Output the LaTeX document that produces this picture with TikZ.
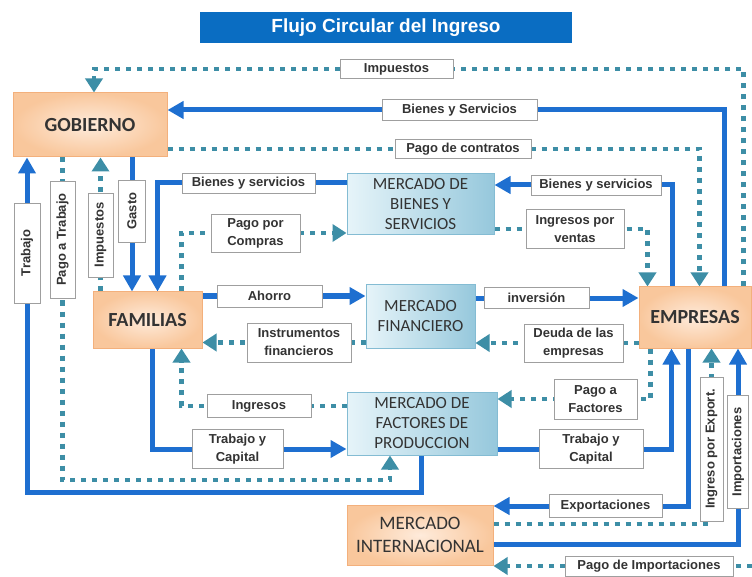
\documentclass[tikz,border=0pt]{standalone}
\usepackage{fontspec}
\setmainfont{Carlito}
\newfontfamily\lblfont{Liberation Sans}
\usepackage{xcolor}
\definecolor{flowblue}{HTML}{1E6FD0}
\definecolor{flowteal}{HTML}{3D8EA6}
\definecolor{titleblue}{HTML}{0A6DC2}
\definecolor{orglight}{HTML}{FEEBDB}
\definecolor{orgdark}{HTML}{F9C79C}
\definecolor{orgedge}{HTML}{F3B07C}
\definecolor{mktlight}{HTML}{E6F4F9}
\definecolor{mktdark}{HTML}{96C8DC}
\definecolor{mktedge}{HTML}{84BCD3}
\definecolor{txtgray}{HTML}{333333}
\usetikzlibrary{arrows.meta, backgrounds}

\begin{document}
\begin{tikzpicture}[x=1pt, y=-1pt,
    sector/.style={rectangle, draw=orgedge, line width=1pt, inner color=orglight,
                   outer color=orgdark, align=center, text=txtgray},
    market/.style={rectangle, draw=mktedge, line width=1pt, left color=mktlight,
                   right color=mktdark, align=center, text=txtgray,
                   font=\fontsize{17}{20}\selectfont},
    lbl/.style={rectangle, draw=gray!75, fill=white, line width=0.8pt, align=center,
                inner sep=2pt, text=txtgray,
                font=\lblfont\bfseries\fontsize{13}{18}\selectfont},
    flow/.style={draw=flowblue, line width=5pt, -{Triangle[length=16pt,width=17pt]}},
    money/.style={draw=flowteal, line width=4.5pt, dash pattern=on 5pt off 6pt,
                  -{Triangle[length=14pt,width=17pt]}}]
  \useasboundingbox (0,0) rectangle (752,577);
  \node[fill=titleblue, minimum width=372, minimum height=31, text=white,
        font=\lblfont\bfseries\fontsize{19}{21}\selectfont] (title) at (386,27.5)
        {Flujo Circular del Ingreso};

  \node[sector, minimum width=154, minimum height=64, font=\bfseries\fontsize{20}{23}\selectfont] (gob) at (90,125) {GOBIERNO};
  \node[sector, minimum width=109, minimum height=56, font=\bfseries\fontsize{20}{23}\selectfont] (fam) at (147.5,320) {FAMILIAS};
  \node[sector, minimum width=112, minimum height=61, font=\bfseries\fontsize{20}{23}\selectfont] (emp) at (695,317.5) {EMPRESAS};
  \node[sector, minimum width=146, minimum height=60, font=\fontsize{19}{23}\selectfont] (mint) at (420,535) {MERCADO\\INTERNACIONAL};
  \node[market, minimum width=147, minimum height=61] (mbs) at (420.5,204.5) {MERCADO DE\\BIENES Y\\SERVICIOS};
  \node[market, minimum width=109, minimum height=63] (mfin) at (420.5,316.5) {MERCADO\\FINANCIERO};
  \node[market, minimum width=150, minimum height=63] (mfac) at (422,423.5) {MERCADO DE\\FACTORES DE\\PRODUCCION};

  \node[lbl, minimum width=113, minimum height=19] (limp) at (396.5,69) {Impuestos};
  \node[lbl, minimum width=155, minimum height=21] (lbys) at (459.5,110) {Bienes y Servicios};
  \node[lbl, minimum width=136, minimum height=19] (lpdc) at (463,149) {Pago de contratos};
  \node[lbl, minimum width=130, minimum height=20] (lbys2) at (596,185) {Bienes y servicios};
  \node[lbl, minimum width=133, minimum height=20] (lbys1) at (248.5,183) {Bienes y servicios};
  \node[lbl, minimum width=89, minimum height=38] (lppc) at (255.5,233) {Pago por\\Compras};
  \node[lbl, minimum width=98, minimum height=39] (lipv) at (575,229) {Ingresos por\\ventas};
  \node[lbl, minimum width=105, minimum height=22] (lah) at (269.5,296) {Ahorro};
  \node[lbl, minimum width=104, minimum height=39] (linst) at (299,342.5) {Instrumentos\\financieros};
  \node[lbl, minimum width=105, minimum height=21] (linv) at (536.5,298) {inversión};
  \node[lbl, minimum width=99, minimum height=38] (ldeu) at (573.5,343) {Deuda de las\\empresas};
  \node[lbl, minimum width=104, minimum height=23] (ling) at (259,406) {Ingresos};
  \node[lbl, minimum width=91, minimum height=39] (ltyc1) at (237.5,449) {Trabajo y\\Capital};
  \node[lbl, minimum width=83, minimum height=40] (lpaf) at (595.5,399) {Pago a\\Factores};
  \node[lbl, minimum width=104, minimum height=39] (ltyc2) at (591,449) {Trabajo y\\Capital};
  \node[lbl, minimum width=113, minimum height=23] (lexp) at (605.5,506) {Exportaciones};
  \node[lbl, minimum width=168, minimum height=20] (lpdi) at (649,566) {Pago de Importaciones};
  \node[lbl, rotate=90, minimum width=144, minimum height=23] (lipe) at (711.5,449) {Ingreso por Export.};
  \node[lbl, rotate=90, minimum width=113, minimum height=21] (limpo) at (738,452) {Importaciones};
  \node[lbl, rotate=90, minimum width=100, minimum height=26] (ltrab) at (27,253) {Trabajo};
  \node[lbl, rotate=90, minimum width=117, minimum height=25] (lpat) at (62.5,239.5) {Pago a Trabajo};
  \node[lbl, rotate=90, minimum width=84, minimum height=25] (limp2) at (100.5,235) {Impuestos};
  \node[lbl, rotate=90, minimum width=62, minimum height=27] (lgasto) at (132,211) {Gasto};

  \coordinate (ptb) at (390,480);
  \coordinate (trb) at (27,492);
  \coordinate (ipe) at (711.5,524);
  \coordinate (imp) at (738,544);
  \coordinate (pdi) at (752,566);

  \begin{scope}[on background layer]
    \draw[money] ([xshift=-8]emp.north east) |- (limp) -| ([xshift=4]gob.north);
    \draw[flow] ([xshift=86]emp.north west) |- (gob.east |- lbys);
    \draw[money] (gob.east |- lpdc) -| ([xshift=61]emp.north west);
    \draw[flow] ([xshift=34]emp.north west) |- (mbs.east |- lbys2);
    \draw[money] (mbs.east |- lipv) -| ([xshift=9]emp.north west);
    \draw[flow] (mbs.west |- lbys1) -| ([xshift=65]fam.north west);
    \draw[money] ([xshift=89]fam.north west) |- (mbs.west |- lppc);
    \draw[flow] (gob.south -| lgasto) -- (fam.north -| lgasto);
    \draw[money] (fam.north -| limp2) -- (gob.south -| limp2);
    \draw[money] (gob.south -| lpat) |- (ptb) -- (mfac.south -| ptb);
    \draw[flow] ([xshift=75]mfac.south west) |- (trb) -- (gob.south -| trb);
    \draw[flow] ([xshift=60]fam.south west) |- (mfac.west |- ltyc1);
    \draw[money] (mfac.west |- ling) -| ([xshift=89]fam.south west);
    \draw[flow] (fam.east |- lah) -- (mfin.west |- lah);
    \draw[money] (mfin.west |- linst) -- (fam.east |- linst);
    \draw[flow] (mfin.east |- linv) -- (emp.west |- linv);
    \draw[money] (emp.west |- ldeu) -- (mfin.east |- ldeu);
    \draw[money] ([xshift=12]emp.south west) |- (mfac.east |- lpaf);
    \draw[flow] (mfac.east |- ltyc2) -| ([xshift=33]emp.south west);
    \draw[flow] ([xshift=50]emp.south west) |- (mint.east |- lexp);
    \draw[money] (mint.east |- ipe) -| (emp.south -| lipe);
    \draw[flow] (mint.east |- imp) -| (emp.south -| limpo);
    \draw[money] (pdi) -- (mint.east |- pdi);
  \end{scope}
\end{tikzpicture}
\end{document}
